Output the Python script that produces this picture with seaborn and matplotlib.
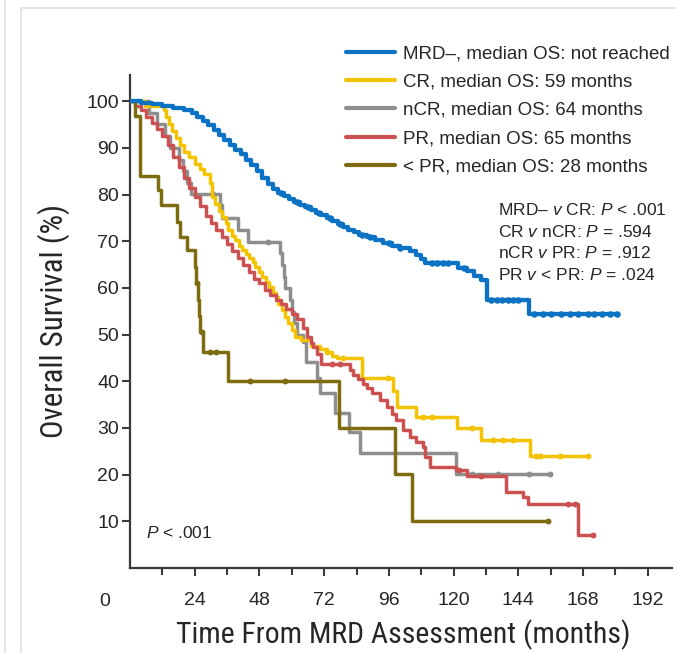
import numpy as np
import pandas as pd
import matplotlib
matplotlib.use("Agg")
import matplotlib.pyplot as plt
import seaborn as sns
from matplotlib import font_manager
from matplotlib.font_manager import FontProperties
from matplotlib.lines import Line2D

# ---------------- data ----------------
groups = ["MRD-", "CR", "nCR", "PR", "<PR"]
legend_labels = [
    "MRD\u2013, median OS: not reached",
    "CR, median OS: 59 months",
    "nCR, median OS: 64 months",
    "PR, median OS: 65 months",
    "< PR, median OS: 28 months",
]
colors = ["#0b72c4", "#f3c300", "#8e8e8e", "#cc5252", "#7d6c10"]

mrd_t = [0, 4, 8, 12, 16, 20, 23, 25, 27, 29, 31, 33, 35, 37, 39, 41, 43, 45, 47, 49, 51, 53,
         55, 57, 59, 61, 63, 65, 67, 69, 71, 73, 75, 77, 79, 81, 83, 85, 88, 91, 94, 97, 100,
         104, 106, 108, 109.5, 121.5, 125, 127.5, 130, 132.4, 147.8, 180.5]
mrd_s = [100, 99.6, 99.3, 99, 98.5, 98, 97.4, 96.6, 95.7, 94.8, 93.8, 92.8, 91.7, 90.6, 89.6,
         88.6, 87.5, 86.3, 85, 83.6, 82.3, 81.2, 80.3, 79.6, 79, 78.4, 77.8, 77.3, 76.7, 76.1,
         75.6, 75, 74.4, 73.7, 73, 72.5, 71.9, 71.4, 70.8, 70.3, 69.7, 69, 68.6, 68, 67, 66.2,
         65.3, 64.3, 63.6, 62.6, 61.7, 57.4, 54.4, 54.4]

cr_t = [0, 5.5, 12.5, 13.5, 14.5, 15.5, 17, 18.5, 20, 22, 24, 26, 27.5, 29.5, 30.5, 31.5, 33,
        34, 35.5, 36.5, 38, 39, 40.5, 41.5, 43, 44, 45.5, 46.5, 48, 49, 50.5, 51.5, 53, 54, 55,
        56.2, 57.5, 58.7, 60, 61.2, 63.6, 67, 70.4, 73, 75, 76.6, 85.9, 97.6, 99, 106.2,
        121.1, 130.3, 148.3, 169.9]
cr_s = [100, 99, 98, 96.5, 95.2, 93.5, 92, 90.5, 89, 88, 86.5, 85.5, 84.5, 82.4, 79.5, 78,
        76.5, 75.2, 73.8, 72.4, 71.2, 70.2, 69, 68.1, 67.2, 66.5, 65.5, 64.5, 63.4, 62.4, 61.3,
        60.2, 59, 58.1, 56.6, 55.2, 53.8, 52.4, 51, 49.5, 48.8, 47.5, 47, 46.3, 45.5, 44.9,
        40.8, 38, 34.5, 32.4, 29.9, 27.4, 24.0, 24.0]

ncr_t = [0, 7, 10, 13, 15, 18, 19.5, 21, 22.7, 33.3, 34, 40.2, 43.9, 55.6, 56.3, 57, 57.6,
         59.5, 60.2, 61, 62, 64, 65.2, 69.2, 70.5, 75.9, 81.3, 85.3, 120.8, 155.7]
ncr_s = [100, 97.5, 95, 92.5, 90, 87.5, 85, 82.5, 80.2, 77.7, 74.9, 72.4, 69.9, 67.4, 64.9,
         62.4, 59.9, 57.4, 54.9, 52.4, 50.0, 48.5, 44.2, 40.8, 37.4, 33.1, 29.2, 24.7, 20.1, 20.1]

pr_t = [0, 2, 4, 6, 8, 10, 12, 14, 16, 18, 20, 22, 24, 26, 28, 30, 32, 34, 36, 38, 40, 42, 44,
        46, 48, 50, 52, 54, 56, 58, 60, 62, 64, 65.5, 67, 68, 69.5, 71, 81.5, 82.8, 84.5, 86.5,
        88, 89.6, 92.6, 95.2, 97, 98.8, 101.3, 103.8, 106, 108.7, 109.3, 111.2, 121, 124.8,
        139.6, 145.8, 147.5, 166.2, 171.7]
pr_s = [100, 99, 98, 96.5, 95.3, 94, 92.5, 90.5, 88, 86, 83.5, 81.5, 79.5, 77.5, 75.5, 74,
        72.5, 71, 69.5, 68, 66.5, 65, 63.5, 62, 61, 59.5, 58.5, 57.5, 56.5, 55.5, 54.5, 53.3,
        51.5, 49.5, 48.3, 47.4, 45.8, 43.8, 42.5, 41.3, 40.4, 39.5, 38.5, 37.4, 36, 34.5, 33,
        31.7, 29.5, 28.1, 27, 26, 23.8, 21.7, 21.0, 19.6, 16.3, 15.3, 13.8, 7.1, 7.1]

lpr_t = [0, 1.8, 3.8, 10.5, 11.5, 17.3, 18.5, 21, 24.1, 24.6, 25.1, 25.6, 26.1, 27.2, 36.4,
         77.5, 98.2, 104.5, 155]
lpr_s = [100, 96.8, 84, 80.9, 77.7, 74.2, 71, 68.1, 64.5, 61, 57.5, 54, 50.6, 46.3, 40.0,
         30.0, 20.1, 10.1, 10.1]

# censoring times (tick marks on the curves)
mrd_cens = [56, 62, 66, 70, 74, 78, 86, 89, 96, 100, 112, 114, 116, 118, 124, 134, 136, 138,
            140, 142, 144, 150, 153, 156, 160, 163, 166, 170, 172, 175, 178, 180.5]
cr_cens = [73, 79, 95.7, 108.5, 112, 127, 134.7, 138.4, 142, 150.5, 152, 159.4, 169.9]
ncr_cens = [30.9, 51, 127, 136.5, 148, 155.7]
pr_cens = [75, 78, 122, 130, 162.5, 165, 171.7]
lpr_cens = [25.0, 26.6, 29.5, 32, 44.5, 57.5, 155]

x_major = [24, 48, 72, 96, 120, 144, 168, 192]
x_minor = [12, 36, 60, 84, 108, 132, 156, 180]
y_ticks = [10, 20, 30, 40, 50, 60, 70, 80, 90, 100]

pvals = [
    "MRD\u2013 $v$ CR: $P$ < .001",
    "CR $v$ nCR: $P$ = .594",
    "nCR $v$ PR: $P$ = .912",
    "PR $v$ < PR: $P$ = .024",
]

# ---------------- build tables ----------------
curves = {"MRD-": (mrd_t, mrd_s), "CR": (cr_t, cr_s), "nCR": (ncr_t, ncr_s),
          "PR": (pr_t, pr_s), "<PR": (lpr_t, lpr_s)}
cens = {"MRD-": mrd_cens, "CR": cr_cens, "nCR": ncr_cens, "PR": pr_cens, "<PR": lpr_cens}

rows, crow = [], []
for g in groups:
    t, s = curves[g]
    for ti, si in zip(t, s):
        rows.append((g, ti, si))
    ta, sa = np.array(t), np.array(s)
    for c in cens[g]:
        idx = np.searchsorted(ta, c, side="right") - 1
        crow.append((g, c, sa[idx]))
df = pd.DataFrame(rows, columns=["group", "time", "surv"])
cdf = pd.DataFrame(crow, columns=["group", "time", "surv"])
pal = dict(zip(groups, colors))

# ---------------- style ----------------
sns.set_theme(style="white")
plt.rcParams["font.family"] = ["Liberation Sans", "DejaVu Sans"]
plt.rcParams["mathtext.fontset"] = "custom"
plt.rcParams["mathtext.rm"] = "Liberation Sans"
plt.rcParams["mathtext.it"] = "Liberation Sans:italic"

# a condensed sans for the axis titles, if one is installed
label_fp = None
prefs = ["liberation sans narrow", "arial narrow", "roboto condensed", "open sans condensed",
         "nimbus sans narrow"]
best = None
for f in font_manager.fontManager.ttflist:
    nm = f.name.lower()
    fn = f.fname.lower()
    if f.style != "normal" or str(f.weight) not in ("400", "normal", "regular"):
        continue
    for rank, p in enumerate(prefs):
        if nm == p or p.replace(" ", "") in fn.replace("-", "").replace("_", ""):
            if "bold" in fn or "italic" in fn or "light" in fn:
                continue
            if best is None or rank < best[0]:
                best = (rank, f.fname)
if best is not None:
    label_fp = FontProperties(fname=best[1])
else:
    label_fp = FontProperties(family="Liberation Sans")

ink = "#262626"
axcol = "#3a3a3a"

fig = plt.figure(figsize=(6.76, 6.53), dpi=100)
ax = fig.add_axes([130 / 676, 85 / 653, 542 / 676, 493 / 653])

draw_order = ["nCR", "CR", "PR", "<PR", "MRD-"]
for z, g in enumerate(draw_order):
    sub = df[df.group == g]
    sns.lineplot(data=sub, x="time", y="surv", color=pal[g], drawstyle="steps-post",
                 estimator=None, sort=False, legend=False,
                 linewidth=3.1 if g == "MRD-" else 2.5, ax=ax, zorder=3 + z)
    csub = cdf[cdf.group == g]
    sns.scatterplot(data=csub, x="time", y="surv", color=pal[g],
                    s=22 if g == "MRD-" else 18, linewidth=0,
                    legend=False, ax=ax, zorder=3.5 + z)

ax.set_xlim(0, 201)
ax.set_ylim(0, 105.6)
sns.despine(ax=ax)
for sp in ("left", "bottom"):
    ax.spines[sp].set_color(axcol)
    ax.spines[sp].set_linewidth(1.6)

ax.set_xticks(x_major)
ax.set_xticks(x_minor, minor=True)
ax.set_yticks(y_ticks)
ax.tick_params(axis="x", which="major", bottom=True, direction="out", length=6, width=1.5,
               color=axcol, pad=11, labelsize=14, labelcolor=ink)
ax.tick_params(axis="x", which="minor", bottom=True, direction="out", length=5, width=1.5,
               color=axcol)
ax.tick_params(axis="y", which="major", left=True, direction="out", length=6, width=1.5,
               color=axcol, pad=2, labelsize=14, labelcolor=ink)
ax.text(-9.3, -7.1, "0", ha="center", va="center", fontsize=14, color=ink, clip_on=False)

xl = ax.set_xlabel("Time From MRD Assessment (months)", fontproperties=label_fp, color=ink)
yl = ax.set_ylabel("Overall Survival (%)", fontproperties=label_fp, color=ink)
xl.set_fontsize(20)
yl.set_fontsize(20)
ax.xaxis.label.set_va("center")
ax.yaxis.label.set_va("center")
ax.xaxis.set_label_coords(0.505, (568 - 635) / 493)
ax.yaxis.set_label_coords((54 - 130) / 542, 0.5)

# size the axis titles so that their lengths match the reference
renderer = fig.canvas.get_renderer()
wx = xl.get_window_extent(renderer).width
xl.set_fontsize(20 * 454 / wx)
hy = yl.get_window_extent(renderer).height
yl.set_fontsize(20 * 233 / hy)

handles = [Line2D([], [], color=c, lw=3.0) for c in colors]
fig.legend(handles, legend_labels, loc="upper left",
           bbox_to_anchor=(346 / 676, 1 - 45 / 653), bbox_transform=fig.transFigure,
           frameon=False, fontsize=13.5, handlelength=2.6, handletextpad=0.45,
           labelspacing=0.6, borderpad=0, borderaxespad=0, labelcolor=ink)

for i, txt in enumerate(pvals):
    fig.text(498 / 676, 1 - (210 + 21.7 * i) / 653, txt, fontsize=12.5, va="center",
             ha="left", color=ink)
fig.text(146 / 676, 1 - 533 / 653, "$P$ < .001", fontsize=12.5, va="center", ha="left",
         color=ink)

# page frame of the screenshot
fc = "#d9e1ea"
fig.add_artist(Line2D([5 / 676, 5 / 676], [0, 1], transform=fig.transFigure, color=fc, lw=1.2))
fig.add_artist(Line2D([21 / 676, 21 / 676], [0, 1 - 8 / 653], transform=fig.transFigure,
                      color=fc, lw=1.2))
fig.add_artist(Line2D([21 / 676, 1], [1 - 8 / 653, 1 - 8 / 653], transform=fig.transFigure,
                      color=fc, lw=1.2))

fig.savefig("out.png", dpi=100)
